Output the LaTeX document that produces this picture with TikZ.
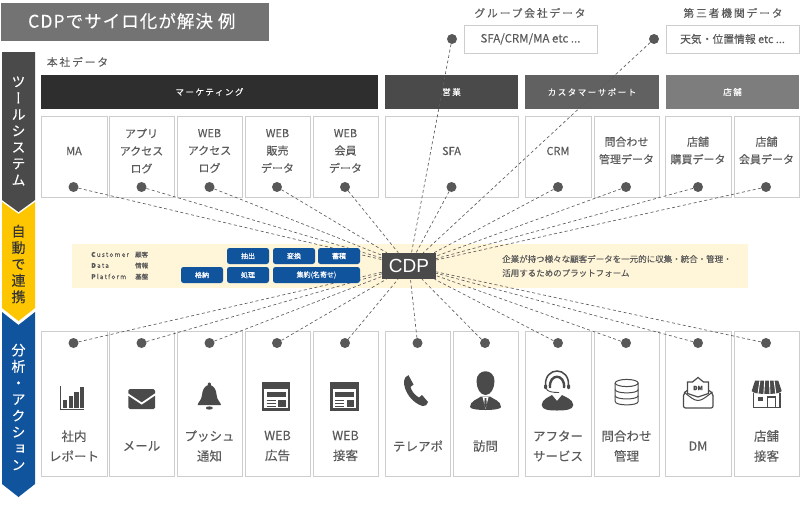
\documentclass[tikz,border=0pt]{standalone}
\usepackage{fontspec}
\setmainfont[FakeBold=.12]{Noto Sans CJK JP}
\newfontfamily\widefont[LetterSpace=18,FakeBold=.12]{Noto Sans CJK JP}
\newfontfamily\titlefont[LetterSpace=6,FakeBold=.12]{Noto Sans CJK JP}
\newfontfamily\vertfont[RawFeature=+vert,FakeBold=.2]{Noto Sans CJK JP}
\newfontfamily\cdpfont{Liberation Sans}
\definecolor{txtgray}{HTML}{5A5A5A}
\definecolor{icongray}{HTML}{4A4A4A}
\definecolor{linegray}{HTML}{CDCDCD}
\definecolor{bandyellow}{HTML}{FFF5D8}
\definecolor{arrowyellow}{HTML}{FEC600}
\definecolor{arrowblue}{HTML}{10549E}
\tikzset{
	sysbox/.style = {draw = linegray, fill = white, line width = 1pt, inner sep = 0pt},
	topbox/.style = {sysbox, minimum height = 81pt},
	botbox/.style = {sysbox, minimum height = 145pt},
	headbox/.style = {minimum height = 34pt, inner sep = 0pt, text = white, font = \widefont\fontsize{8.5}{10}\selectfont},
	toptext/.style = {text = txtgray, align = center, font = \fontsize{11}{17.5}\selectfont},
	bottext/.style = {text = txtgray, align = center, font = \fontsize{12.5}{20}\selectfont},
	pdot/.style = {circle, fill = icongray!92!white, minimum size = 10pt, inner sep = 0pt},
	dashline/.style = {draw = icongray!90!white, line width = .65pt, dash pattern = on 3pt off 2.5pt},
	pill/.style = {fill = arrowblue, rounded corners = 2.5pt, minimum height = 16pt, inner sep = 0pt, text = white, font = \fontsize{7}{8}\selectfont},
	grouptext/.style = {text = txtgray, font = \widefont\fontsize{10.7}{12}\selectfont},
	sidetext/.style = {align = center, font = \vertfont\fontsize{14}{16.4}\selectfont},
	smalltext/.style = {text = txtgray, anchor = west, inner sep = 0pt, font = \fontsize{6.5}{8}\selectfont}
}
\begin{document}
\begin{tikzpicture}[x = 1pt, y = -1pt]
	\useasboundingbox (0,0) rectangle (802,506);
	\node[fill = black!55, minimum width = 268pt, minimum height = 38pt, inner sep = 0pt] (title) at (135,22) {};
	\node[anchor = west, inner sep = 0pt, text = white, font = \titlefont\fontsize{17.5}{20}\selectfont] (titletext) at (28,21) {CDPでサイロ化が解決 例};
	% side arrows
	\fill[icongray] (2,52) -- (35,52) -- (35,200) -- (18.5,212) -- (2,200) -- cycle;
	\fill[arrowyellow] (2,202) -- (18.5,214) -- (35,202) -- (35,308) -- (18.5,321) -- (2,308) -- cycle;
	\fill[arrowblue] (2,312) -- (18.5,325) -- (35,312) -- (35,484) -- (18.5,497) -- (2,484) -- cycle;
	\node[sidetext, text = white] (side1) at (18.5,131) {ツ\\ー\\ル\\シ\\ス\\テ\\ム};
	\node[sidetext, text = black!80] (side2) at (18.5,264) {自\\動\\で\\連\\携};
	\node[sidetext, text = white] (side3) at (18.5,407) {分\\析\\・\\ア\\ク\\シ\\ョ\\ン};
	% upper labels
	\node[grouptext] (honsha) at (77.5,62) {本社データ};
	\node[grouptext] (group) at (530,13) {グループ会社データ};
	\node[grouptext] (third) at (733,13) {第三者機関データ};
	\node[sysbox, minimum width = 133pt, minimum height = 28pt, text = txtgray, font = \fontsize{11.5}{12}\selectfont] (groupbox) at (530.5,39) {SFA/CRM/MA etc ...};
	\node[sysbox, minimum width = 133pt, minimum height = 28pt, text = txtgray, font = \fontsize{10.8}{12}\selectfont] (thirdbox) at (732.5,39) {天気・位置情報 etc ...};
	\node[pdot] (dgroup) at (452,39) {};
	\node[pdot] (dthird) at (654,39) {};
	% headers
	\node[headbox, fill = black!82, minimum width = 337pt] (hmkt) at (209.5,92) {マーケティング};
	\node[headbox, fill = icongray, minimum width = 133pt] (hsales) at (451.5,92) {営業};
	\node[headbox, fill = black!62, minimum width = 134pt] (hcs) at (592,92) {カスタマーサポート};
	\node[headbox, fill = black!51, minimum width = 133pt] (hshop) at (732.5,92) {店舗};
	% top boxes
	\node[topbox, minimum width = 66pt] (bma) at (74,156.5) {};
	\node[topbox, minimum width = 65pt] (bapp) at (141.5,156.5) {};
	\node[topbox, minimum width = 65pt] (bwlog) at (209.5,156.5) {};
	\node[topbox, minimum width = 65pt] (bwsale) at (277.5,156.5) {};
	\node[topbox, minimum width = 65pt] (bwmem) at (345.5,156.5) {};
	\node[topbox, minimum width = 133pt] (bsfa) at (451.5,156.5) {};
	\node[topbox, minimum width = 66pt] (bcrm) at (558,156.5) {};
	\node[topbox, minimum width = 65pt] (binq) at (626.5,156.5) {};
	\node[topbox, minimum width = 66pt] (bspur) at (698,156.5) {};
	\node[topbox, minimum width = 65pt] (bsmem) at (766.5,156.5) {};
	\node[toptext] (tma) at (74,151) {MA};
	\node[toptext] (tapp) at (141.5,151) {アプリ\\アクセス\\ログ};
	\node[toptext] (twlog) at (209.5,151) {WEB\\アクセス\\ログ};
	\node[toptext] (twsale) at (277.5,151) {WEB\\販売\\データ};
	\node[toptext] (twmem) at (345.5,151) {WEB\\会員\\データ};
	\node[toptext] (tsfa) at (451.5,151) {SFA};
	\node[toptext] (tcrm) at (558,151) {CRM};
	\node[toptext] (tinq) at (626.5,150.5) {問合わせ\\管理データ};
	\node[toptext] (tspur) at (698,150.5) {店舗\\購買データ};
	\node[toptext] (tsmem) at (766.5,150.5) {店舗\\会員データ};
	% bottom boxes
	\node[botbox, minimum width = 66pt] (brep) at (74,403.5) {};
	\node[botbox, minimum width = 65pt] (bmail) at (141.5,403.5) {};
	\node[botbox, minimum width = 65pt] (bpush) at (209.5,403.5) {};
	\node[botbox, minimum width = 65pt] (bwad) at (277.5,403.5) {};
	\node[botbox, minimum width = 65pt] (bwcs) at (345.5,403.5) {};
	\node[botbox, minimum width = 65pt] (btel) at (417.5,403.5) {};
	\node[botbox, minimum width = 65pt] (bvisit) at (485.5,403.5) {};
	\node[botbox, minimum width = 66pt] (bafter) at (558,403.5) {};
	\node[botbox, minimum width = 65pt] (binqm) at (626.5,403.5) {};
	\node[botbox, minimum width = 66pt] (bdm) at (698,403.5) {};
	\node[botbox, minimum width = 65pt] (bshop) at (766.5,403.5) {};
	\node[bottext] (trep) at (74,446) {社内\\レポート};
	\node[bottext] (tmail) at (141.5,446) {メール};
	\node[bottext] (tpush) at (209.5,446) {プッシュ\\通知};
	\node[bottext] (twad) at (277.5,446) {WEB\\広告};
	\node[bottext] (twcs) at (345.5,446) {WEB\\接客};
	\node[bottext] (ttel) at (418,446) {テレアポ};
	\node[bottext] (tvisit) at (485.5,446) {訪問};
	\node[bottext] (tafter) at (558,446) {アフター\\サービス};
	\node[bottext] (tinqm) at (626.5,446) {問合わせ\\管理};
	\node[bottext] (tdm) at (698,446) {DM};
	\node[bottext] (tshop) at (766.5,446) {店舗\\接客};
	% center band
	\fill[bandyellow] (72,244) rectangle (748,288);
	\node[fill = icongray, minimum width = 54pt, minimum height = 26pt, inner sep = 0pt, text = white, font = \cdpfont\fontsize{19}{20}\selectfont] (cdp) at (409,266) {CDP};
	% dots
	\node[pdot] (dma) at (73.5,187) {};
	\node[pdot] (dapp) at (141.5,187) {};
	\node[pdot] (dwlog) at (209.5,187) {};
	\node[pdot] (dwsale) at (277,187) {};
	\node[pdot] (dwmem) at (345,187) {};
	\node[pdot] (dsfa) at (451.5,187) {};
	\node[pdot] (dcrm) at (558,187) {};
	\node[pdot] (dinq) at (626,187) {};
	\node[pdot] (dspur) at (698,187) {};
	\node[pdot] (dsmem) at (766,187) {};
	\node[pdot] (drep) at (73.5,343) {};
	\node[pdot] (dmail) at (141.5,343) {};
	\node[pdot] (dpush) at (209.5,343) {};
	\node[pdot] (dwad) at (277,343) {};
	\node[pdot] (dwcs) at (345,343) {};
	\node[pdot] (dtel) at (417.5,343) {};
	\node[pdot] (dvisit) at (485,343) {};
	\node[pdot] (dafter) at (558,343) {};
	\node[pdot] (dinqm) at (626,343) {};
	\node[pdot] (ddm) at (698,343) {};
	\node[pdot] (dshop) at (766,343) {};
	% connectors
	\draw[dashline] (dgroup) -- (cdp);
	\draw[dashline] (dthird) -- (cdp);
	\draw[dashline] (dma) -- (cdp);
	\draw[dashline] (dapp) -- (cdp);
	\draw[dashline] (dwlog) -- (cdp);
	\draw[dashline] (dwsale) -- (cdp);
	\draw[dashline] (dwmem) -- (cdp);
	\draw[dashline] (dsfa) -- (cdp);
	\draw[dashline] (dcrm) -- (cdp);
	\draw[dashline] (dinq) -- (cdp);
	\draw[dashline] (dspur) -- (cdp);
	\draw[dashline] (dsmem) -- (cdp);
	\draw[dashline] (drep) -- (cdp);
	\draw[dashline] (dmail) -- (cdp);
	\draw[dashline] (dpush) -- (cdp);
	\draw[dashline] (dwad) -- (cdp);
	\draw[dashline] (dwcs) -- (cdp);
	\draw[dashline] (dtel) -- (cdp);
	\draw[dashline] (dvisit) -- (cdp);
	\draw[dashline] (dafter) -- (cdp);
	\draw[dashline] (dinqm) -- (cdp);
	\draw[dashline] (ddm) -- (cdp);
	\draw[dashline] (dshop) -- (cdp);
	% band contents
	\node[pill, minimum width = 42pt] (pext) at (248,256) {抽出};
	\node[pill, minimum width = 42pt] (pconv) at (294,256) {変換};
	\node[pill, minimum width = 42pt] (pacc) at (339,256) {蓄積};
	\node[pill, minimum width = 42pt] (pstore) at (202,275) {格納};
	\node[pill, minimum width = 42pt] (pproc) at (248,275) {処理};
	\node[pill, minimum width = 87pt] (pagg) at (316.5,275) {集約(名寄せ)};
	\node[smalltext, font = \widefont\fontsize{6.5}{8}\selectfont] (lcust) at (91,254.5) {\textbf{C}ustomer};
	\node[smalltext, font = \widefont\fontsize{6.5}{8}\selectfont] (ldata) at (91,265.5) {\textbf{D}ata};
	\node[smalltext, font = \widefont\fontsize{6.5}{8}\selectfont] (lplat) at (91,276.5) {\textbf{P}latform};
	\node[smalltext] (lcust2) at (135,254.5) {顧客};
	\node[smalltext] (ldata2) at (135,265.5) {情報};
	\node[smalltext] (lplat2) at (135,276.5) {基盤};
	\node[text = txtgray, anchor = west, inner sep = 0pt, font = \fontsize{8.5}{14}\selectfont, align = left] (desc) at (502,266) {企業が持つ様々な顧客データを一元的に収集・統合・管理・\\活用するためのプラットフォーム};
	% icons
	\draw[icongray, line width = .9pt] (60.5,386) -- (60.5,409.5) -- (84,409.5); %chart
	\fill[icongray] (63.3,400) rectangle (67.3,407.7);
	\fill[icongray] (68.5,396) rectangle (72.7,407.7);
	\fill[icongray] (74,391.7) rectangle (78.7,407.7);
	\fill[icongray] (80,387.3) rectangle (84,407.7);
	\fill[icongray, rounded corners = 1.5pt] (128.3,389) rectangle (155,409); %mail
	\draw[white, line width = 1.8pt] (127.5,394) -- (141.7,403.5) -- (155.8,394);
	\fill[icongray] (197.7,405) .. controls (198,402) and (201.5,400.5) .. (202,395) .. controls (202.5,389.5) and (204.5,386.5) .. (207.7,385.3) .. controls (207,381.5) and (211.7,381.5) .. (211,385.3) .. controls (214,386.5) and (216.2,389.5) .. (216.6,395) .. controls (217,400.5) and (220.6,402) .. (221,405) -- cycle; %bell
	\fill[icongray] (209.3,408) ellipse [x radius = 3.5pt, y radius = 1.6pt];
	\fill[icongray] (261.7,382.3) rectangle (290.3,411); %web
	\fill[white] (264.3,389) rectangle (287.7,408.3);
	\fill[icongray] (266.7,392) rectangle (286,397.3);
	\fill[icongray] (278.3,400) rectangle (286,406.7);
	\draw[icongray, line width = .8pt] (266.7,400.3) -- (276,400.3) (266.7,403.2) -- (276,403.2) (266.7,406) -- (276,406);
	\fill[icongray] (330,382.3) rectangle (358.6,411); %web
	\fill[white] (332.6,389) rectangle (356,408.3);
	\fill[icongray] (335,392) rectangle (354.3,397.3);
	\fill[icongray] (346.6,400) rectangle (354.3,406.7);
	\draw[icongray, line width = .8pt] (335,400.3) -- (344.3,400.3) (335,403.2) -- (344.3,403.2) (335,406) -- (344.3,406);
	\fill[icongray] (408.5,375.2) -- (413.5,384.5) -- (410.5,387) .. controls (411.5,391) and (415,395.5) .. (419,397.5) -- (422,395) -- (428,402) .. controls (427.5,405) and (425,406.5) .. (422.5,406) .. controls (412,403) and (403.5,391) .. (404,381) .. controls (404.3,378) and (406,376) .. (408.5,375.2) -- cycle; %phone
	\fill[icongray] (476.5,381) .. controls (476.5,368) and (494.5,368) .. (494.5,381) .. controls (494.5,388) and (491,395) .. (485.5,395) .. controls (480,395) and (476.5,388) .. (476.5,381) -- cycle; %person
	\fill[icongray] (470,407) .. controls (470,401) and (477,399.5) .. (481,396.5) -- (490,396.5) .. controls (494,399.5) and (501,401) .. (501,407) .. controls (501,411) and (470,411) .. (470,407) -- cycle;
	\fill[white] (482.5,397) -- (485.5,409) -- (488.5,397) -- cycle;
	\fill[icongray] (484.7,398) -- (486.3,398) -- (486.8,405) -- (485.5,408) -- (484.2,405) -- cycle;
	\draw[icongray, line width = 1.5pt] (545.5,386) .. controls (544,366) and (570,366) .. (568.5,386); %operator
	\draw[icongray, line width = 2.4pt] (550,388) .. controls (548.5,373) and (565.5,373) .. (564,388);
	\draw[icongray, line width = .9pt] (546,388) .. controls (547,392) and (553,392.5) .. (559,392.5);
	\fill[icongray, rounded corners = 1pt] (544,384.5) rectangle (547,389);
	\fill[icongray, rounded corners = 1pt] (567,384.5) rectangle (570,389);
	\fill[icongray] (541.7,405) .. controls (542,399) and (549,397) .. (552,395) -- (557,401) -- (562,395) .. controls (565,397) and (573,399) .. (573.3,405) .. controls (573,410) and (565,410.5) .. (557,410.5) .. controls (549,410.5) and (542,410) .. (541.7,405) -- cycle;
	\draw[icongray, line width = 1pt] (626.7,383) ellipse [x radius = 11.5pt, y radius = 3.6pt]; %database
	\draw[icongray, line width = 1pt] (615.2,383) -- (615.2,401.5) .. controls (615.2,406) and (638.2,406) .. (638.2,401.5) -- (638.2,383);
	\draw[icongray, line width = 1pt] (615.2,389.5) .. controls (615.2,394) and (638.2,394) .. (638.2,389.5);
	\draw[icongray, line width = 1pt] (615.2,395.7) .. controls (615.2,400) and (638.2,400) .. (638.2,395.7);
	\draw[icongray, line width = 1.2pt, rounded corners = 2pt] (687,390.5) -- (683.5,393.5) -- (683.5,408) -- (713,408) -- (713,393.5) -- (709,390.5); %envelope
	\draw[icongray, line width = 1.2pt, fill = white] (687.5,382) -- (692.5,382) -- (698,377.5) -- (703.5,382) -- (708.5,382) -- (708.5,393.5) -- (698,397) -- (687.5,393.5) -- cycle;
	\draw[icongray, line width = 1pt] (684,392) .. controls (690,397) and (694,400.5) .. (698,400.5) .. controls (702,400.5) and (706,397) .. (712.5,392);
	\node[text = icongray, inner sep = 0pt, font = \bfseries\fontsize{6}{7}\selectfont] (dmtext) at (698,388) {DM};
	\fill[icongray] (755,380.7) -- (778.3,380.7) -- (781.7,391) .. controls (781,395) and (752.5,395) .. (751.7,391) -- cycle; %shop
	\draw[white, line width = .9pt] (760,380) -- (757.8,395) (764.7,380) -- (763.8,395) (769.4,380) -- (770,395) (774,380) -- (776,395);
	\draw[icongray, line width = 1.3pt] (753.5,393) -- (753.5,407.7) -- (780,407.7) -- (780,393);
	\fill[icongray] (758.3,396.7) rectangle (762.7,401);
	\draw[icongray, line width = 1.1pt] (767.5,407.7) -- (767.5,397) -- (775.5,397) -- (775.5,407.7);
\end{tikzpicture}
\end{document}
